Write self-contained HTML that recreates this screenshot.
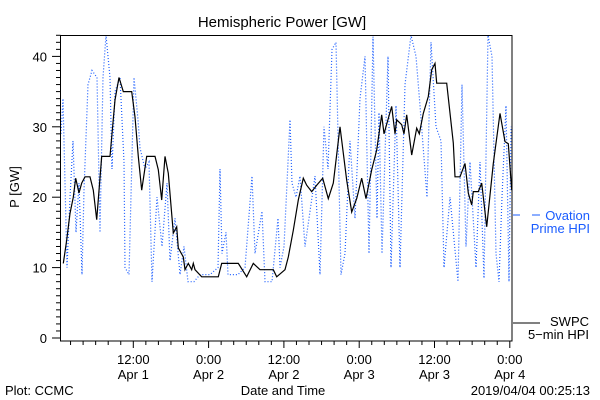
<!DOCTYPE html>
<html><head><meta charset="utf-8"><style>
body{margin:0;background:#fff;}
svg{display:block;font-family:"Liberation Sans",sans-serif;}
</style></head><body>
<svg id="chart" width="600" height="400" viewBox="0 0 600 400">
<rect width="600" height="400" fill="#fff"/>
<defs><clipPath id="clip"><rect x="60.5" y="35" width="451.5" height="306"/></clipPath></defs>
<text x="282" y="27" font-size="15" text-anchor="middle">Hemispheric Power [GW]</text>
<text transform="translate(19,187) rotate(-90)" font-size="13" text-anchor="middle">P [GW]</text>
<g id="yaxis"></g>
<g id="xaxis"></g>
<g clip-path="url(#clip)">
<path id="blue" fill="none" stroke="#1a5cff" stroke-width="1.2" stroke-dasharray="1,2"/>
<path id="black" fill="none" stroke="#000" stroke-width="1.2"/>
</g>
<rect x="60.5" y="35.5" width="451.5" height="305.5" fill="none" stroke="#000" stroke-width="1"/>
<g fill="#1a5cff" font-size="13">
<line x1="513" y1="215" x2="520" y2="215" stroke="#1a5cff"/>
<line x1="532" y1="215" x2="540" y2="215" stroke="#1a5cff"/>
<text x="590" y="220" text-anchor="end">Ovation</text>
<text x="590" y="233" text-anchor="end">Prime HPI</text>
</g>
<g font-size="13">
<line x1="513" y1="323" x2="540" y2="323" stroke="#000"/>
<text x="589" y="326" text-anchor="end">SWPC</text>
<text x="589" y="339" text-anchor="end">5−min HPI</text>
</g>
<text x="283" y="395" font-size="13" text-anchor="middle">Date and Time</text>
<text x="5" y="395" font-size="13">Plot: CCMC</text>
<text x="590" y="395" font-size="13" text-anchor="end">2019/04/04 00:25:13</text>
</svg>
<script>
const blackHours=[0.84,1.39,1.91,2.44,2.82,3.35,3.78,4.30,5.10,5.63,6.17,6.96,8.29,9.08,9.72,10.41,11.75,12.27,12.80,13.34,14.14,15.46,15.98,16.53,17.05,17.58,18.37,18.92,19.17,19.97,20.24,20.76,21.31,21.56,21.83,22.90,25.55,26.09,28.73,30.07,31.12,32.19,34.31,34.85,36.18,36.70,37.50,38.29,39.09,39.63,40.43,41.23,42.18,43.08,43.87,44.94,46.01,46.80,47.60,48.40,49.08,49.99,50.79,51.59,51.95,53.18,53.71,53.98,54.77,55.14,55.57,56.37,57.16,57.58,58.22,59.01,59.55,60.08,60.35,61.95,63.00,63.27,64.06,64.86,65.39,65.93,66.19,66.98,67.52,68.32,69.37,70.44,71.24,71.76,72.30];
const blackValues=[10.6,13.9,17.7,20,22.7,20.6,22,22.9,22.9,21,16.8,25.8,25.8,33.8,37,35,35,31.4,25.8,21,25.8,25.8,23.9,19.6,25.8,23.4,14.9,15.8,12.8,11.5,9.7,10.6,9.7,10.6,9.7,8.7,8.7,10.6,10.6,8.7,10.6,9.7,9.7,8.7,9.7,11.5,15.3,19.6,22.7,21.7,20.8,21.7,22.7,19.8,22,30,22.4,17.9,19.8,22.7,19.8,23.9,26.7,31.7,29,32.9,29,31,30.3,29,31.7,26,29.8,29,31.9,34.3,38.1,39,36.2,36.2,27.7,22.9,22.9,24.8,20.6,18.9,20.8,20.8,22,15.8,24.8,31.9,27.9,27.6,21];
const blueHours=[0.48,0.80,1.43,1.91,2.39,2.87,3.35,3.82,4.14,4.78,5.42,6.22,6.69,7.17,7.65,8.29,8.61,9.08,9.88,10.52,10.68,11.31,12.11,12.75,13.07,13.86,14.50,14.98,15.78,16.57,17.37,17.85,18.65,19.44,20.08,20.72,21.67,22.63,24.22,25.50,25.82,26.14,26.77,27.09,28.69,29.80,30.92,31.39,32.51,32.99,34.10,35.06,35.38,36.02,36.97,37.29,37.93,38.57,39.36,40.16,40.96,41.75,42.39,43.03,43.67,44.30,45.10,45.74,46.53,47.33,48.13,48.92,49.56,50.20,50.84,51.16,51.63,52.59,53.07,53.86,54.50,55.30,56.25,57.05,57.69,58.80,59.44,60.24,61.04,61.51,62.47,63.75,64.38,65.02,65.66,66.61,67.25,67.89,68.53,69.16,69.80,70.28,70.76,71.39,71.87,72.19];
const blueValues=[29,34,10,20,28,15,22,9,21,36,38,37,15,37,43,37,24,35,37,25,10,9,37,31,27,24,25,8,20,13,22,11,17,9,13,8,8,9,9,10,24,12,15,9,9,10,23,12,18,8,8,17,10,13,31,22,20,23,13,18,23,9,30,24,41,42,9,12,28,17,34,40,12,42.8,17,32,12,40,10,33,10,36,43,40,33,20,42,30,28,10,20,8,36,13,25,10,25,8.5,43,40,12,8,20,33,8,30];
const yTicks=[0,10,20,30,40];
const xTickHours=[12,24,36,48,60,72];
const xTimeLabels=["12:00","0:00","12:00","0:00","12:00","0:00"];
const xDateLabels=["Apr 1","Apr 2","Apr 2","Apr 3","Apr 3","Apr 4"];
const NS="http://www.w3.org/2000/svg";
function xs(h){return 58+h*6.275;}
function ys(v){return 338-v*7.04;}
function mk(tag,attrs,parent){const e=document.createElementNS(NS,tag);for(const k in attrs)e.setAttribute(k,attrs[k]);parent.appendChild(e);return e;}
function pathD(hs,vs){return hs.map((h,i)=>(i?"L":"M")+xs(h).toFixed(1)+","+ys(vs[i]).toFixed(1)).join("");}
document.getElementById("black").setAttribute("d",pathD(blackHours,blackValues));
document.getElementById("blue").setAttribute("d",pathD(blueHours,blueValues));
const ya=document.getElementById("yaxis");
for(let v=0;v<=43;v++){
  const y=ys(v);const major=v%10===0;
  const t=mk("line",{x1:major?52:56,x2:60.5,y1:y,y2:y,stroke:"#000"},ya);
  
  
}
yTicks.forEach(v=>{
  const t=mk("text",{x:47,y:ys(v)+5,"font-size":13,"text-anchor":"end"},ya);
  
  
  t.textContent=v;
});
const xa=document.getElementById("xaxis");
for(let h=2;h<=72;h+=2){
  const x=xs(h);const major=h%12===0;
  const t=mk("line",{x1:x,x2:x,y1:341,y2:major?348:345,stroke:"#000"},xa);
  
  
}
xTickHours.forEach((h,i)=>{
  const a=mk("text",{x:xs(h),y:364,"font-size":13,"text-anchor":"middle"},xa);
  
  
  a.textContent=xTimeLabels[i];
  const b=mk("text",{x:xs(h),y:379,"font-size":13,"text-anchor":"middle"},xa);
  
  
  b.textContent=xDateLabels[i];
});
</script>
</body></html>
